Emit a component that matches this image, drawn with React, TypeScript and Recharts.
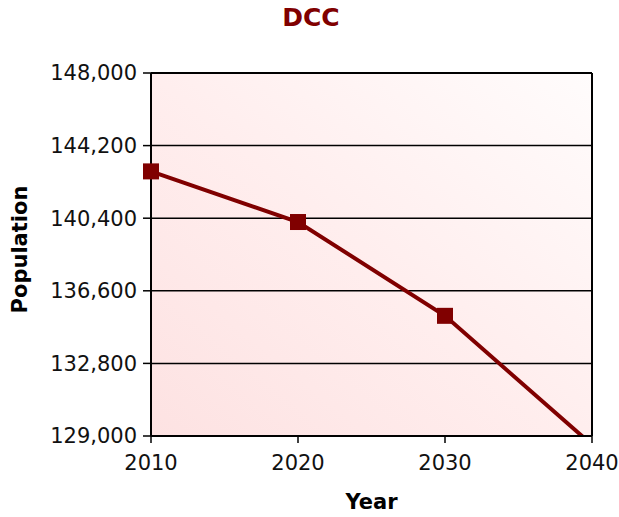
import React from 'react';
import { LineChart, Line, XAxis, YAxis, CartesianGrid, ReferenceLine } from 'recharts';

const years = [2010, 2020, 2030, 2040];
const population = [142850, 140200, 135290, 128540];
const yTicks = [129000, 132800, 136600, 140400, 144200, 148000];
const xTicks = [2010, 2020, 2030, 2040];
const title = 'DCC';
const xTitle = 'Year';
const yTitle = 'Population';

const data = years.map((y, i) => ({ year: y, pop: population[i] }));

const FONT = '"DejaVu Sans", Verdana, sans-serif';
const RED = '#800000';

const SquareDot = (props: any) => {
  const { cx, cy } = props;
  if (cx == null || cy == null) return null;
  return <rect x={cx - 8} y={cy - 8} width={16} height={16} fill={RED} />;
};

export default function App() {
  return (
    <div style={{ position: 'relative', width: 619, height: 517, background: '#fff' }}>
      <style>{'body{margin:0;}'}</style>
      <div
        style={{
          position: 'absolute', left: 0, width: 622, top: 5, textAlign: 'center',
          fontFamily: FONT, fontWeight: 'bold', fontSize: 25, lineHeight: '25px', color: RED,
        }}
      >
        {title}
      </div>
      <LineChart
        width={619}
        height={517}
        data={data}
        margin={{ top: 73, right: 27, bottom: 0, left: 0 }}
      >
        <defs>
          <linearGradient id="bgGrad" x1="0" y1="1" x2="1" y2="0">
            <stop offset="0%" stopColor="#fde2e2" />
            <stop offset="50%" stopColor="#ffeeee" />
            <stop offset="100%" stopColor="#fffcfc" />
          </linearGradient>
        </defs>
        <CartesianGrid
          vertical={false}
          stroke="#000"
          strokeWidth={1.5}
          fill="url(#bgGrad)"
          fillOpacity={1}
        />
        <XAxis
          dataKey="year"
          type="number"
          domain={[2010, 2040]}
          ticks={xTicks}
          height={81}
          tickSize={7}
          tickMargin={12}
          axisLine={{ stroke: '#000', strokeWidth: 2 }}
          tickLine={{ stroke: '#000', strokeWidth: 1.5 }}
          tick={{ fill: '#111', fontSize: 21, fontFamily: FONT }}
          interval={0}
        />
        <YAxis
          type="number"
          domain={[129000, 148000]}
          ticks={yTicks}
          allowDataOverflow
          width={151}
          tickSize={8}
          tickMargin={6}
          axisLine={{ stroke: '#000', strokeWidth: 2 }}
          tickLine={{ stroke: '#000', strokeWidth: 1.5 }}
          tick={{ fill: '#111', fontSize: 21, fontFamily: FONT }}
          tickFormatter={(v: number) => v.toLocaleString('en-US')}
          interval={0}
        />
        <ReferenceLine y={148000} stroke="#000" strokeWidth={2} ifOverflow="extendDomain" />
        <ReferenceLine x={2040} stroke="#000" strokeWidth={2} />
        <Line
          type="linear"
          dataKey="pop"
          stroke={RED}
          strokeWidth={4}
          dot={<SquareDot />}
          activeDot={false}
          isAnimationActive={false}
        />
      </LineChart>
      <div
        style={{
          position: 'absolute', left: 271.5, width: 200, top: 492, textAlign: 'center',
          fontFamily: FONT, fontWeight: 'bold', fontSize: 21, lineHeight: '21px', color: '#000',
        }}
      >
        {xTitle}
      </div>
      <div
        style={{
          position: 'absolute', left: 20, top: 249, width: 200, height: 21,
          marginLeft: -100, marginTop: -10.5, transform: 'rotate(-90deg)', textAlign: 'center',
          fontFamily: FONT, fontWeight: 'bold', fontSize: 21, lineHeight: '21px', color: '#000',
        }}
      >
        {yTitle}
      </div>
    </div>
  );
}
